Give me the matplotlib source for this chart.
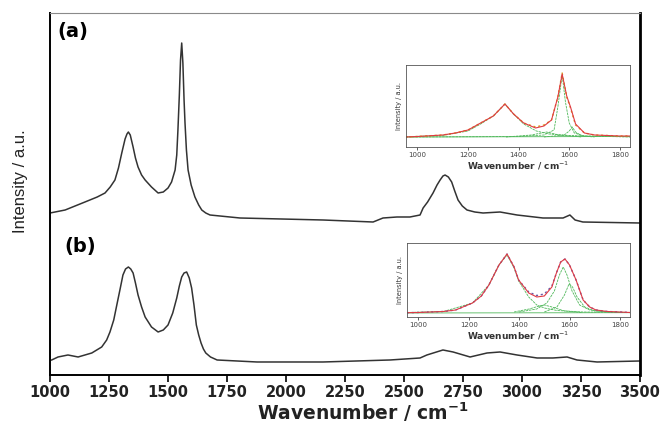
import matplotlib
matplotlib.use("Agg")
import matplotlib.pyplot as plt

# Raman spectra, main panel: wavenumber (cm-1) vs intensity (a.u.)
wn_a = [1000, 1064, 1148, 1200, 1233, 1255, 1275, 1290, 1304, 1318, 1326, 1332,
        1340, 1352, 1362, 1373, 1388, 1403, 1430, 1458, 1480, 1500, 1515, 1530,
        1537, 1542, 1548, 1553, 1558, 1563, 1568, 1572, 1578, 1585, 1598, 1614,
        1630, 1643, 1660, 1678, 1805, 2157, 2369, 2411, 2470, 2525, 2568, 2581,
        2600, 2623, 2640, 2653, 2665, 2674, 2688, 2702, 2715, 2729, 2747, 2767,
        2800, 2835, 2907, 2979, 3089, 3174, 3203, 3225, 3258, 3500]
int_a = [162, 165, 173, 178, 182, 188, 195, 207, 222, 236, 241, 243,
         240, 228, 217, 208, 200, 195, 188, 182, 183, 187, 193, 205,
         220, 245, 280, 315, 332, 312, 275, 252, 225, 205, 190, 178,
         170, 165, 162, 160, 157, 155, 153, 157, 158, 158, 160, 167,
         173, 182, 190, 195, 199, 200, 198, 193, 184, 175, 169, 165,
         163, 162, 163, 160, 157, 157, 160, 155, 153, 152]

wn_b = [1007, 1034, 1076, 1119, 1177, 1219, 1240, 1254, 1270, 1283, 1297, 1309,
        1320, 1332, 1342, 1352, 1362, 1373, 1388, 1403, 1430, 1458, 1480, 1500,
        1520, 1537, 1548, 1558, 1568, 1579, 1590, 1600, 1610, 1620, 1630, 1640,
        1650, 1660, 1680, 1708, 1877, 2157, 2441, 2568, 2597, 2665, 2708, 2780,
        2852, 2907, 2979, 3064, 3131, 3191, 3233, 3318, 3500]
int_b = [15, 18, 20, 18, 22, 28, 35, 43, 55, 70, 86, 100,
         106, 108, 106, 102, 92, 80, 68, 58, 48, 43, 45, 50,
         62, 77, 89, 98, 102, 103, 97, 87, 70, 50, 40, 32,
         26, 22, 18, 15, 13, 13, 15, 17, 20, 25, 23, 18,
         22, 23, 20, 17, 17, 18, 15, 13, 14]

xticks_main = [1000, 1250, 1500, 1750, 2000, 2250, 2500, 2750, 3000, 3250, 3500]

# Inset (a): measured band, total fit and fitted components
ins_a_wn = [953, 1000, 1100, 1150, 1200, 1250, 1300, 1346, 1380, 1420, 1467, 1500,
            1530, 1555, 1572, 1590, 1605, 1625, 1660, 1700, 1800, 1840]
ins_a_meas = [10, 10.5, 12, 14, 17, 24, 31, 43, 33, 24, 20, 22,
              27, 50, 74, 50, 39, 22, 14, 12, 11, 11]
ins_a_fit = [10, 10.5, 12, 14, 17, 24, 31, 43, 33, 24, 19, 21,
             27, 50, 73, 51, 40, 23, 14, 12, 11, 11]
ins_a_d_wn = [953, 1100, 1200, 1250, 1300, 1346, 1380, 1420, 1470, 1520, 1600, 1700, 1840]
ins_a_d = [10.3, 11.5, 16, 23, 31, 43, 33, 23, 16, 13, 11.5, 10.7, 10.3]
ins_a_g_wn = [953, 1400, 1500, 1540, 1555, 1572, 1585, 1600, 1620, 1660, 1840]
ins_a_g = [10, 10.5, 12, 17, 40, 72, 45, 24, 14, 11, 10]
ins_a_d2_wn = [1500, 1580, 1600, 1612, 1625, 1650, 1700]
ins_a_d2 = [10, 12, 16, 20, 15, 11, 10]
ins_a_d3_wn = [1350, 1450, 1510, 1560, 1650]
ins_a_d3 = [10, 12, 15, 12, 10]
ins_a_base_wn = [953, 1840]
ins_a_base = [10, 10.5]

# Inset (b)
ins_b_wn = [955, 1000, 1100, 1148, 1215, 1250, 1280, 1320, 1352, 1380, 1398, 1438,
            1470, 1500, 1530, 1548, 1565, 1582, 1600, 1626, 1654, 1680, 1705, 1750, 1840]
ins_b_meas = [4.3, 4.5, 5.5, 7, 14, 21, 32, 52, 63, 50, 37, 25,
              21.5, 23, 31, 44, 55, 58, 52, 37, 17, 10, 7, 5.5, 4.5]
ins_b_fit = [4.3, 4.5, 5.5, 7, 14, 21, 32, 52, 63, 50, 37, 24,
             20, 21, 30, 44, 55, 58, 52, 37, 17, 10, 7, 5.5, 4.5]
ins_b_d_wn = [955, 1100, 1215, 1280, 1320, 1352, 1380, 1398, 1438, 1470, 1500, 1550, 1650, 1840]
ins_b_d = [4.5, 5.5, 14, 32, 52, 62, 49, 36, 20, 12, 9, 6.5, 5, 4.5]
ins_b_g_wn = [1400, 1470, 1510, 1540, 1560, 1575, 1590, 1610, 1640, 1680, 1750, 1840]
ins_b_g = [5, 8, 14, 26, 42, 50, 42, 26, 12, 7, 5, 4.5]
ins_b_d2_wn = [1500, 1550, 1580, 1598, 1612, 1630, 1660, 1700, 1800]
ins_b_d2 = [5, 10, 22, 33, 30, 20, 10, 6, 4.5]
ins_b_d3_wn = [1380, 1440, 1480, 1500, 1530, 1580, 1650]
ins_b_d3 = [5, 8, 11, 12, 10, 6, 4.5]
ins_b_base_wn = [955, 1840]
ins_b_base = [4, 4.3]

xticks_ins = [1000, 1200, 1400, 1600, 1800]

fig = plt.figure(figsize=(6.67, 4.24), dpi=100)
ax = fig.add_axes([0.075, 0.1156, 0.8845, 0.8537])

ax.plot(wn_a, int_a, color="#333333", lw=1.1)
ax.plot(wn_b, int_b, color="#333333", lw=1.1)
ax.set_xlim(1000, 3500)
ax.set_ylim(0, 362)
ax.set_yticks([])
ax.set_xticks(xticks_main)
ax.tick_params(axis="x", direction="out", length=5, width=1.2, pad=2.5)
for lab in ax.get_xticklabels():
    lab.set_fontsize(10.5)
    lab.set_fontweight("bold")
    lab.set_color("#222222")

ax.spines["left"].set_linewidth(1.4)
ax.spines["bottom"].set_linewidth(1.4)
ax.spines["right"].set_linewidth(2.0)
ax.spines["top"].set_linewidth(0.8)
ax.spines["top"].set_color("#8a8a8a")

ax.set_xlabel(r"Wavenumber / cm$^{\mathbf{-1}}$", fontsize=13.5, fontweight="bold", color="#222222")
ax.xaxis.set_label_coords(0.53, -0.07)
ax.set_ylabel("Intensity / a.u.", fontsize=12, color="#222222",
              family=["Liberation Sans", "DejaVu Sans"])
ax.yaxis.set_label_coords(-0.038, 0.536)

ax.text(0.012, 0.95, "(a)", transform=ax.transAxes, fontsize=14, fontweight="bold", va="center")
ax.text(0.024, 0.355, "(b)", transform=ax.transAxes, fontsize=14, fontweight="bold", va="center")


def draw_inset(rect, wn, meas, fit, comps, base, meas_color, ymax):
    ins = fig.add_axes(rect)
    for cwn, cval in comps:
        ins.plot(cwn, cval, color="#4fb85a", lw=0.6, ls=(0, (3, 1)))
    ins.plot(base[0], base[1], color="#4fb85a", lw=0.6)
    # measured trace underneath, fitted envelope on top
    ins.plot(wn, meas, color=meas_color, lw=1.0, ls=(0, (1.5, 2)))
    ins.plot(wn, fit, color="#e03a44", lw=0.8)
    ins.set_xlim(955, 1840)
    ins.set_ylim(0, ymax)
    ins.set_yticks([])
    ins.set_xticks(xticks_ins)
    ins.tick_params(axis="x", direction="out", length=2, width=0.6, pad=1.5, labelsize=5,
                    colors="#444444")
    for s in ins.spines.values():
        s.set_linewidth(0.6)
        s.set_color("#555555")
    ins.set_xlabel(r"Wavenumber / cm$^{-1}$", fontsize=6.5, fontweight="bold", labelpad=1,
                   color="#333333")
    ins.set_ylabel("Intensity / a.u.", fontsize=4.8, labelpad=3, color="#333333")
    return ins


draw_inset([0.6087, 0.6533, 0.3358, 0.1934], ins_a_wn, ins_a_meas, ins_a_fit,
           [(ins_a_d_wn, ins_a_d), (ins_a_g_wn, ins_a_g), (ins_a_d2_wn, ins_a_d2),
            (ins_a_d3_wn, ins_a_d3)],
           (ins_a_base_wn, ins_a_base), "#d9a21a", 82)
draw_inset([0.6102, 0.2524, 0.3343, 0.1745], ins_b_wn, ins_b_meas, ins_b_fit,
           [(ins_b_d_wn, ins_b_d), (ins_b_g_wn, ins_b_g), (ins_b_d2_wn, ins_b_d2),
            (ins_b_d3_wn, ins_b_d3)],
           (ins_b_base_wn, ins_b_base), "#6a5aa8", 74)

fig.savefig("out.png", dpi=100)
